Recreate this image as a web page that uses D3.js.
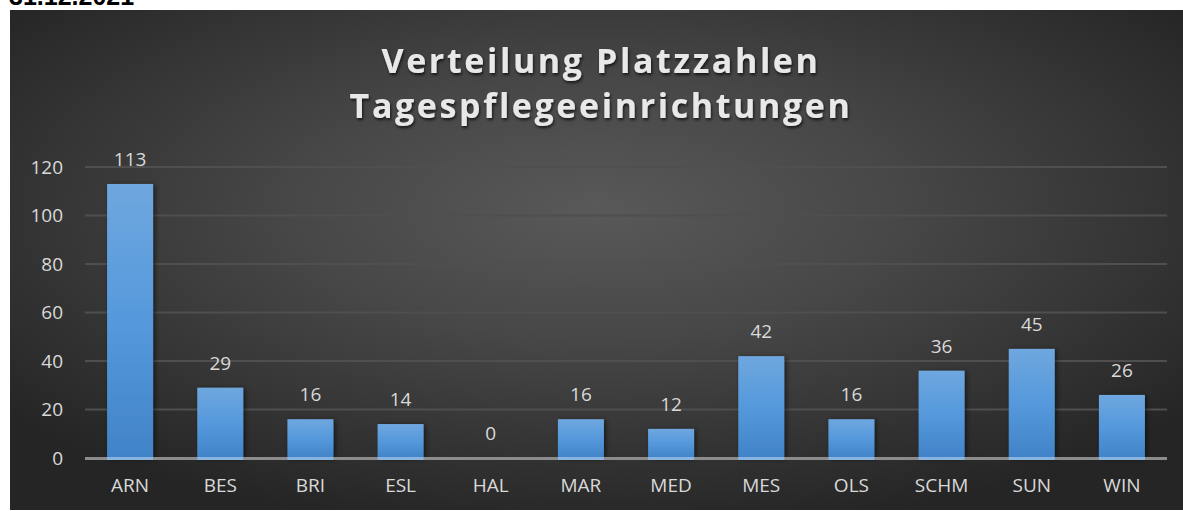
<!DOCTYPE html>
<html>
<head>
<meta charset="utf-8">
<script src="https://cdn.jsdelivr.net/npm/d3@7"></script>
<style>
  body { margin: 0; background: #fff; overflow: hidden; }
</style>
</head>
<body>
<div id="chart"></div>
<script>
// data
var categories = ["ARN", "BES", "BRI", "ESL", "HAL", "MAR", "MED", "MES", "OLS", "SCHM", "SUN", "WIN"];
var places = [113, 29, 16, 14, 0, 16, 12, 42, 16, 36, 45, 26];
var yTicks = [0, 20, 40, 60, 80, 100, 120];
var titleLines = ["Verteilung Platzzahlen", "Tagespflegeeinrichtungen"];
var dateLabel = "31.12.2021";

var W = 1183, H = 511;
var margin = {top: 167, right: 16, bottom: 53, left: 85},
    width = W - margin.left - margin.right,
    height = H - margin.top - margin.bottom;

var svg = d3.select("#chart").append("svg")
    .attr("width", W)
    .attr("height", H);

var defs = svg.append("defs");

// dark radial background
var bg = defs.append("radialGradient")
    .attr("id", "bg")
    .attr("cx", "50%").attr("cy", "40%").attr("r", "65%");
bg.append("stop").attr("offset", "0%").attr("stop-color", "#595959");
bg.append("stop").attr("offset", "40%").attr("stop-color", "#474747");
bg.append("stop").attr("offset", "100%").attr("stop-color", "#252525");

var barGrad = defs.append("linearGradient")
    .attr("id", "bar")
    .attr("x1", 0).attr("y1", 0).attr("x2", 0).attr("y2", 1);
barGrad.append("stop").attr("offset", "0%").attr("stop-color", "#6fa7df");
barGrad.append("stop").attr("offset", "50%").attr("stop-color", "#5599dc");
barGrad.append("stop").attr("offset", "100%").attr("stop-color", "#4183c8");

var shadow = defs.append("filter").attr("id", "shadow")
    .attr("x", "-20%").attr("y", "-20%").attr("width", "150%").attr("height", "150%");
shadow.append("feDropShadow")
    .attr("dx", 2).attr("dy", 1).attr("stdDeviation", 2.5)
    .attr("flood-color", "#000").attr("flood-opacity", 0.55);

var tshadow = defs.append("filter").attr("id", "tshadow");
tshadow.append("feDropShadow")
    .attr("dx", 1).attr("dy", 2).attr("stdDeviation", 1.5)
    .attr("flood-color", "#000").attr("flood-opacity", 0.7);

// date text, cut at the top as in the source
svg.append("text")
    .attr("x", 9)
    .attr("y", 5)
    .attr("font-family", "Liberation Sans, Arial, sans-serif")
    .attr("font-weight", "bold")
    .attr("font-size", 25)
    .attr("fill", "#000")
    .text(dateLabel);

svg.append("rect")
    .attr("x", 10).attr("y", 10)
    .attr("width", W - 10).attr("height", H - 11)
    .attr("fill", "url(#bg)");

// title
svg.append("g")
    .attr("filter", "url(#tshadow)")
    .selectAll("text")
    .data(titleLines)
    .enter().append("text")
    .attr("x", 601)
    .attr("y", function(d, i) { return 73 + i * 45; })
    .attr("text-anchor", "middle")
    .attr("font-family", "Open Sans, sans-serif")
    .attr("font-weight", "bold")
    .attr("font-size", 34)
    .attr("letter-spacing", 2.6)
    .attr("fill", "#e8e8e8")
    .text(function(d) { return d; });

var g = svg.append("g")
    .attr("transform", "translate(" + margin.left + "," + margin.top + ")");

var xScale = d3.scaleBand()
    .domain(categories)
    .range([0, width])
    .paddingInner(0.49)
    .paddingOuter(0.245);

var yScale = d3.scaleLinear()
    .domain([0, 120])
    .range([height, 0]);

// gridlines
g.selectAll(".grid")
    .data(yTicks.slice(1))
    .enter().append("line")
    .attr("class", "grid")
    .attr("x1", 0).attr("x2", width)
    .attr("y1", function(d) { return yScale(d); })
    .attr("y2", function(d) { return yScale(d); })
    .attr("stroke", "#4f4f4f")
    .attr("stroke-width", 2);

var labelFont = {family: "Open Sans, sans-serif", size: 19, fill: "#d9d9d9"};

var yAxis = d3.axisLeft(yScale).tickValues(yTicks).tickSize(0).tickPadding(22);
var yg = g.append("g").call(yAxis);
yg.select(".domain").remove();
yg.selectAll("text")
    .attr("font-family", labelFont.family)
    .attr("font-size", labelFont.size)
    .attr("fill", labelFont.fill);

// bars
g.selectAll(".bar")
    .data(places)
    .enter().append("rect")
    .attr("class", "bar")
    .attr("x", function(d, i) { return xScale(categories[i]); })
    .attr("y", function(d) { return yScale(d); })
    .attr("width", xScale.bandwidth())
    .attr("height", function(d) { return height - yScale(d); })
    .attr("fill", "url(#bar)")
    .attr("filter", "url(#shadow)");

// x axis line
g.append("line")
    .attr("x1", 0).attr("x2", width)
    .attr("y1", height + 0.5).attr("y2", height + 0.5)
    .attr("stroke", "#8c8c8c")
    .attr("stroke-width", 3);

// lighter strip where bars meet the axis
g.selectAll(".foot")
    .data(categories.filter(function(c, i) { return places[i] > 0; }))
    .enter().append("rect")
    .attr("x", function(c) { return xScale(c); })
    .attr("y", height - 1)
    .attr("width", xScale.bandwidth())
    .attr("height", 3)
    .attr("fill", "#8ab4e0");

var xAxis = d3.axisBottom(xScale).tickSize(0).tickPadding(21);
var xg = g.append("g").attr("transform", "translate(0," + height + ")").call(xAxis);
xg.select(".domain").remove();
xg.selectAll("text")
    .attr("font-family", labelFont.family)
    .attr("font-size", labelFont.size)
    .attr("fill", labelFont.fill);

// data labels
g.selectAll(".lbl")
    .data(places)
    .enter().append("text")
    .attr("class", "lbl")
    .attr("x", function(d, i) { return xScale(categories[i]) + xScale.bandwidth() / 2; })
    .attr("y", function(d) { return yScale(d) - 18; })
    .attr("text-anchor", "middle")
    .attr("font-family", labelFont.family)
    .attr("font-size", labelFont.size)
    .attr("fill", labelFont.fill)
    .text(function(d) { return d; });
</script>
</body>
</html>
